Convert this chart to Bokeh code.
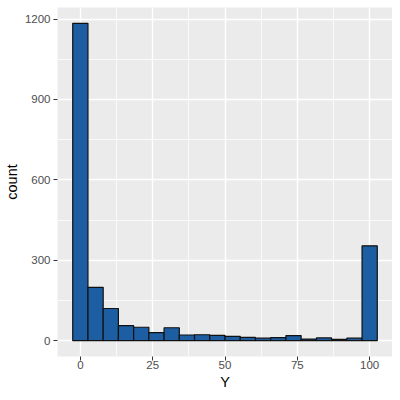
from bokeh.plotting import figure
from bokeh.models import FixedTicker, Range1d
from bokeh.embed import file_html
from bokeh.resources import INLINE

# Histogram data (20 bins over 0..100)
bin_count = 20
x_min, x_max = 0, 100
counts = [1184, 199, 120, 56, 50, 30, 48, 21, 22, 20, 16, 12, 9, 11, 19, 6, 10, 5, 9, 354]
x_ticks = [0, 25, 50, 75, 100]
x_minor = [12.5, 37.5, 62.5, 87.5]
y_ticks = [0, 300, 600, 900, 1200]
y_minor = [150, 450, 750, 1050]

binwidth = (x_max - x_min) / (bin_count - 1)
centers = [x_min + i * binwidth for i in range(bin_count)]

lo = x_min - binwidth / 2
hi = x_max + binwidth / 2
xpad = (hi - lo) * 0.05
ymax = max(counts)
ypad = ymax * 0.05

p = figure(width=392, height=392, output_backend="svg", toolbar_location=None,
           x_range=Range1d(lo - xpad, hi + xpad), y_range=Range1d(-ypad, ymax + ypad),
           min_border_left=57, min_border_right=0, min_border_top=7, min_border_bottom=35)

p.vbar(x=centers, top=counts, bottom=0, width=binwidth,
       fill_color="#1D5EA2", line_color="#111111", line_width=1.2)

p.background_fill_color = "#EBEBEB"
p.border_fill_color = "white"
p.outline_line_color = None

for ax, ticks, minor in ((p.xaxis[0], x_ticks, x_minor), (p.yaxis[0], y_ticks, y_minor)):
    ax.ticker = FixedTicker(ticks=ticks, minor_ticks=minor)
    ax.axis_line_color = None
    ax.major_tick_line_color = "#333333"
    ax.major_tick_out = 4
    ax.major_tick_in = 0
    ax.minor_tick_line_color = None
    ax.major_label_text_color = "#4D4D4D"
    ax.major_label_text_font = "Liberation Sans"
    ax.major_label_text_font_size = "11.5px"
    ax.axis_label_text_font = "Liberation Sans"
    ax.axis_label_text_font_size = "14.5px"
    ax.axis_label_text_font_style = "normal"
    ax.axis_label_text_color = "black"

p.xaxis.major_label_standoff = 0
p.xaxis.axis_label_standoff = 2
p.yaxis.major_label_standoff = 3
p.yaxis.axis_label_standoff = 2
p.xaxis.axis_label = "Y"
p.yaxis.axis_label = "count"

p.grid.grid_line_color = "white"
p.grid.grid_line_width = 1.4
p.grid.minor_grid_line_color = "white"
p.grid.minor_grid_line_width = 0.7

open("out.html", "w").write(file_html(p, INLINE))
